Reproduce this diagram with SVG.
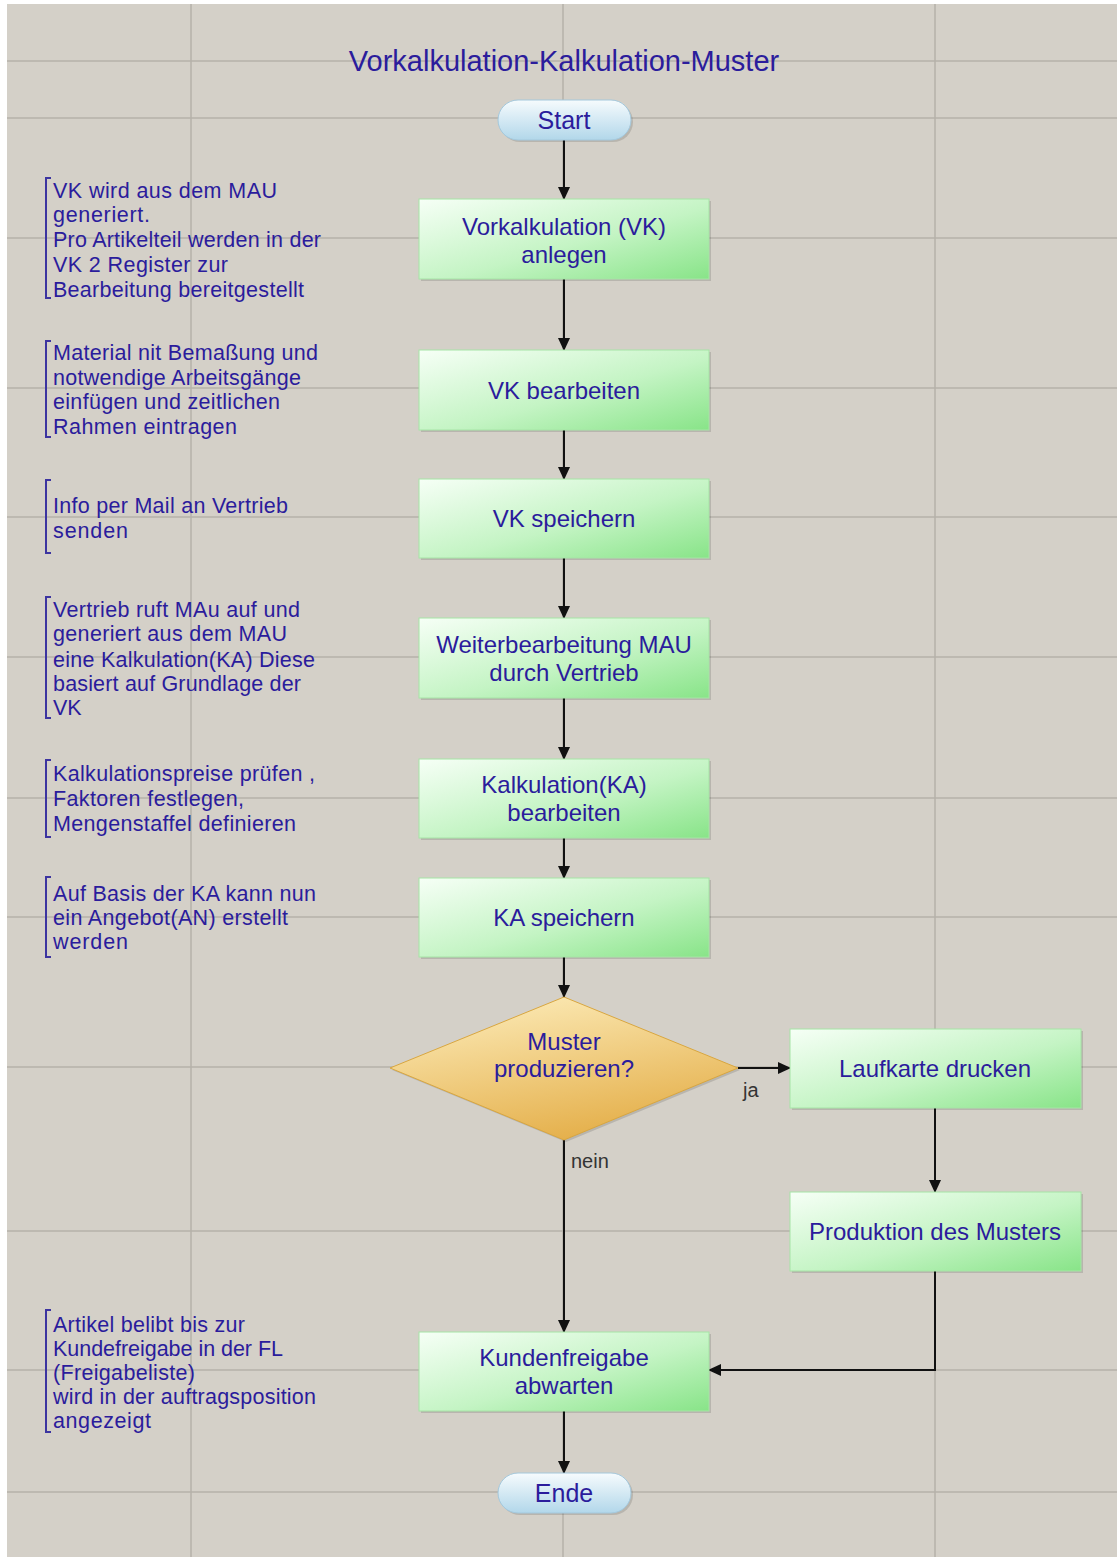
<svg xmlns="http://www.w3.org/2000/svg" width="1117" height="1557" viewBox="0 0 1117 1557">
  <defs>
    <linearGradient id="gBox" x1="0" y1="0" x2="1" y2="1">
      <stop offset="0" stop-color="#f6fff6"/>
      <stop offset="0.55" stop-color="#c4f4c4"/>
      <stop offset="1" stop-color="#88e488"/>
    </linearGradient>
    <linearGradient id="gTerm" x1="0" y1="0" x2="0" y2="1">
      <stop offset="0" stop-color="#f6fbfd"/>
      <stop offset="1" stop-color="#b2d7ea"/>
    </linearGradient>
    <linearGradient id="gDia" x1="0.2" y1="0" x2="0.6" y2="1">
      <stop offset="0" stop-color="#fcebb8"/>
      <stop offset="1" stop-color="#e4ae48"/>
    </linearGradient>
    <marker id="arr" markerUnits="userSpaceOnUse" markerWidth="13" markerHeight="12" refX="12" refY="6" orient="auto">
      <path d="M0,0 L13,6 L0,12 z" fill="#111"/>
    </marker>
  </defs>
  <style>
    .grid { stroke: #b6b2aa; stroke-width: 1.5; }
    .box { fill: url(#gBox); stroke: #a6e4a6; stroke-width: 1; }
    .term { fill: url(#gTerm); stroke: #a4c8dc; stroke-width: 1; }
    .dia { fill: url(#gDia); stroke: #d8a640; stroke-width: 1; }
    .shadow { fill: #000; opacity: 0.13; }
    .t { font-family: "Liberation Sans", Arial, sans-serif; fill: #2b1c9c; text-anchor: middle; font-size: 24px; }
    .tt { font-family: "Liberation Sans", Arial, sans-serif; fill: #2b1c9c; text-anchor: middle; font-size: 25px; }
    .title { font-family: "Liberation Sans", Arial, sans-serif; fill: #2b1c9c; text-anchor: middle; font-size: 29px; }
    .ann { font-family: "Liberation Sans", Arial, sans-serif; fill: #2b1c9c; font-size: 21.5px; }
    .br { fill: none; stroke: #3c34a0; stroke-width: 2; }
    .lbl { font-family: "Liberation Sans", Arial, sans-serif; fill: #333; font-size: 20px; }
    .con { fill: none; stroke: #111; stroke-width: 2; marker-end: url(#arr); }
  </style>

  <rect x="0" y="0" width="1117" height="1557" fill="#ffffff"/>
  <rect x="7" y="4" width="1110" height="1553" fill="#d4d0c8"/>

  <g id="grid">
    <line class="grid" x1="7" y1="61" x2="1117" y2="61"/>
    <line class="grid" x1="7" y1="118" x2="1117" y2="118"/>
    <line class="grid" x1="7" y1="238" x2="1117" y2="238"/>
    <line class="grid" x1="7" y1="388" x2="1117" y2="388"/>
    <line class="grid" x1="7" y1="517" x2="1117" y2="517"/>
    <line class="grid" x1="7" y1="657" x2="1117" y2="657"/>
    <line class="grid" x1="7" y1="798" x2="1117" y2="798"/>
    <line class="grid" x1="7" y1="917" x2="1117" y2="917"/>
    <line class="grid" x1="7" y1="1067" x2="1117" y2="1067"/>
    <line class="grid" x1="7" y1="1231" x2="1117" y2="1231"/>
    <line class="grid" x1="7" y1="1370" x2="1117" y2="1370"/>
    <line class="grid" x1="7" y1="1492" x2="1117" y2="1492"/>
    <line class="grid" x1="191" y1="4" x2="191" y2="1557"/>
    <line class="grid" x1="563" y1="4" x2="563" y2="1557"/>
    <line class="grid" x1="935" y1="4" x2="935" y2="1557"/>
  </g>

  <text class="title" x="564" y="71">Vorkalkulation-Kalkulation-Muster</text>

  <g id="connectors">
    <line class="con" x1="564" y1="140" x2="564" y2="199"/>
    <line class="con" x1="564" y1="279" x2="564" y2="350"/>
    <line class="con" x1="564" y1="430" x2="564" y2="479"/>
    <line class="con" x1="564" y1="558" x2="564" y2="618"/>
    <line class="con" x1="564" y1="698" x2="564" y2="759"/>
    <line class="con" x1="564" y1="838" x2="564" y2="878"/>
    <line class="con" x1="564" y1="957" x2="564" y2="997"/>
    <line class="con" x1="564" y1="1140" x2="564" y2="1332"/>
    <line class="con" x1="564" y1="1411" x2="564" y2="1473"/>
    <line class="con" x1="738" y1="1068" x2="790" y2="1068"/>
    <line class="con" x1="935" y1="1108" x2="935" y2="1192"/>
    <polyline class="con" points="935,1271 935,1370 709,1370"/>
    <text class="lbl" x="743" y="1097">ja</text>
    <text class="lbl" x="571" y="1168">nein</text>
  </g>

  <g id="start">
    <rect class="shadow" x="500" y="102" width="133" height="40" rx="20"/>
    <rect class="term" x="498" y="100" width="133" height="40" rx="20"/>
    <text class="tt" x="564" y="129">Start</text>
  </g>

  <g id="vk-anlegen">
    <rect class="shadow" x="421" y="201" width="290" height="80"/>
    <rect class="box" x="419" y="199" width="290" height="80"/>
    <text class="t" x="564" y="235">Vorkalkulation (VK)</text>
    <text class="t" x="564" y="263">anlegen</text>
  </g>

  <g id="vk-bearbeiten">
    <rect class="shadow" x="421" y="352" width="290" height="80"/>
    <rect class="box" x="419" y="350" width="290" height="80"/>
    <text class="t" x="564" y="399">VK bearbeiten</text>
  </g>

  <g id="vk-speichern">
    <rect class="shadow" x="421" y="481" width="290" height="79"/>
    <rect class="box" x="419" y="479" width="290" height="79"/>
    <text class="t" x="564" y="527">VK speichern</text>
  </g>

  <g id="weiterbearbeitung">
    <rect class="shadow" x="421" y="620" width="290" height="80"/>
    <rect class="box" x="419" y="618" width="290" height="80"/>
    <text class="t" x="564" y="653">Weiterbearbeitung MAU</text>
    <text class="t" x="564" y="681">durch Vertrieb</text>
  </g>

  <g id="kalkulation">
    <rect class="shadow" x="421" y="761" width="290" height="79"/>
    <rect class="box" x="419" y="759" width="290" height="79"/>
    <text class="t" x="564" y="793">Kalkulation(KA)</text>
    <text class="t" x="564" y="821">bearbeiten</text>
  </g>

  <g id="ka-speichern">
    <rect class="shadow" x="421" y="880" width="290" height="79"/>
    <rect class="box" x="419" y="878" width="290" height="79"/>
    <text class="t" x="564" y="926">KA speichern</text>
  </g>

  <g id="muster-entscheidung">
    <polygon class="shadow" points="566,999 740,1070 566,1142 392,1070"/>
    <polygon class="dia" points="564,997 738,1068 564,1140 390,1068"/>
    <text class="t" x="564" y="1050">Muster</text>
    <text class="t" x="564" y="1077">produzieren?</text>
  </g>

  <g id="laufkarte">
    <rect class="shadow" x="792" y="1031" width="291" height="79"/>
    <rect class="box" x="790" y="1029" width="291" height="79"/>
    <text class="t" x="935" y="1077">Laufkarte drucken</text>
  </g>

  <g id="produktion">
    <rect class="shadow" x="792" y="1194" width="291" height="79"/>
    <rect class="box" x="790" y="1192" width="291" height="79"/>
    <text class="t" x="935" y="1240">Produktion des Musters</text>
  </g>

  <g id="kundenfreigabe">
    <rect class="shadow" x="421" y="1334" width="290" height="79"/>
    <rect class="box" x="419" y="1332" width="290" height="79"/>
    <text class="t" x="564" y="1366">Kundenfreigabe</text>
    <text class="t" x="564" y="1394">abwarten</text>
  </g>

  <g id="ende">
    <rect class="shadow" x="500" y="1475" width="133" height="40" rx="20"/>
    <rect class="term" x="498" y="1473" width="133" height="40" rx="20"/>
    <text class="tt" x="564" y="1502">Ende</text>
  </g>

  <g id="anm-1">
    <path class="br" d="M51,178 L46,178 L46,298 L51,298"/>
    <text class="ann" x="53" y="198" textLength="224">VK wird aus dem MAU</text>
    <text class="ann" x="53" y="222" textLength="97">generiert.</text>
    <text class="ann" x="53" y="247" textLength="268">Pro Artikelteil werden in der</text>
    <text class="ann" x="53" y="272" textLength="175">VK 2 Register zur</text>
    <text class="ann" x="53" y="297" textLength="251">Bearbeitung bereitgestellt</text>
  </g>

  <g id="anm-2">
    <path class="br" d="M51,341 L46,341 L46,437 L51,437"/>
    <text class="ann" x="53" y="360" textLength="265">Material nit Bemaßung und</text>
    <text class="ann" x="53" y="385" textLength="248">notwendige Arbeitsgänge</text>
    <text class="ann" x="53" y="409" textLength="227">einfügen und zeitlichen</text>
    <text class="ann" x="53" y="434" textLength="184">Rahmen eintragen</text>
  </g>

  <g id="anm-3">
    <path class="br" d="M51,480 L46,480 L46,553 L51,553"/>
    <text class="ann" x="53" y="513" textLength="235">Info per Mail an Vertrieb</text>
    <text class="ann" x="53" y="538" textLength="75">senden</text>
  </g>

  <g id="anm-4">
    <path class="br" d="M51,597 L46,597 L46,718 L51,718"/>
    <text class="ann" x="53" y="617" textLength="247">Vertrieb ruft MAu auf und</text>
    <text class="ann" x="53" y="641" textLength="234">generiert aus dem MAU</text>
    <text class="ann" x="53" y="667" textLength="262">eine Kalkulation(KA) Diese</text>
    <text class="ann" x="53" y="691" textLength="248">basiert auf Grundlage der</text>
    <text class="ann" x="53" y="715">VK</text>
  </g>

  <g id="anm-5">
    <path class="br" d="M51,760 L46,760 L46,837 L51,837"/>
    <text class="ann" x="53" y="781" textLength="262">Kalkulationspreise prüfen ,</text>
    <text class="ann" x="53" y="806" textLength="191">Faktoren festlegen,</text>
    <text class="ann" x="53" y="831" textLength="243">Mengenstaffel definieren</text>
  </g>

  <g id="anm-6">
    <path class="br" d="M51,877 L46,877 L46,957 L51,957"/>
    <text class="ann" x="53" y="901" textLength="263">Auf Basis der KA kann nun</text>
    <text class="ann" x="53" y="925" textLength="235">ein Angebot(AN) erstellt</text>
    <text class="ann" x="53" y="949" textLength="75">werden</text>
  </g>

  <g id="anm-7">
    <path class="br" d="M51,1310 L46,1310 L46,1432 L51,1432"/>
    <text class="ann" x="53" y="1332" textLength="192">Artikel belibt bis zur</text>
    <text class="ann" x="53" y="1356" textLength="230">Kundefreigabe in der FL</text>
    <text class="ann" x="53" y="1380" textLength="142">(Freigabeliste)</text>
    <text class="ann" x="53" y="1404" textLength="263">wird in der auftragsposition</text>
    <text class="ann" x="53" y="1428" textLength="98">angezeigt</text>
  </g>
</svg>
